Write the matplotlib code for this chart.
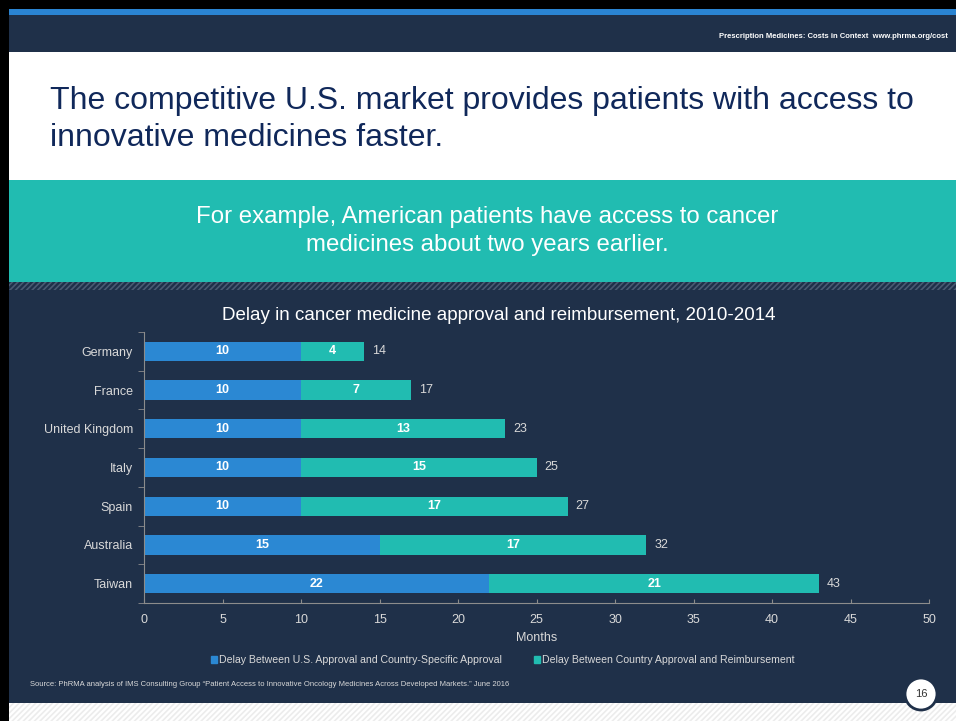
import numpy as np
import matplotlib.pyplot as plt
from matplotlib.patches import Rectangle, Circle, Patch

# data
countries = ['Germany', 'France', 'United Kingdom', 'Italy', 'Spain', 'Australia', 'Taiwan']
approval = [10, 10, 10, 10, 10, 15, 22]
reimb = [4, 7, 13, 15, 17, 17, 21]
xticks = [0, 5, 10, 15, 20, 25, 30, 35, 40, 45, 50]

navy = '#1f3049'
blue = '#2b88d3'
teal = '#21bcb1'
light = '#d9d9d9'

plt.rcParams['font.family'] = ['Liberation Sans', 'DejaVu Sans']
plt.rcParams['hatch.linewidth'] = 1.2

fig = plt.figure(figsize=(9.56, 7.21), dpi=100)
W, H = 956, 721

def band(y0, y1, color, hatch=None, ec=None, x0=0, x1=W):
    # y in pixels from the top
    r = Rectangle((x0 / W, 1 - y1 / H), (x1 - x0) / W, (y1 - y0) / H,
                  transform=fig.transFigure, facecolor=color, edgecolor=ec if ec else color,
                  hatch=hatch, linewidth=0, zorder=-5)
    fig.patches.append(r)

# slide background
band(0, 721, 'black')
band(9, 15, '#2a84d2', x0=9)
band(15, 52, navy, x0=9)
band(52, 180, 'white', x0=9)
band(180, 282, teal, x0=9)
band(282, 290, navy, hatch='//////', ec='#4a5a72', x0=9)
band(290, 703, navy, x0=9)
band(703, 721, 'white', hatch='//////', ec='#ececec', x0=9)

fig.text(948 / W, 1 - 36 / H, 'Prescription Medicines: Costs in Context  www.phrma.org/cost',
         color='white', fontsize=5.5, fontweight='bold', ha='right', va='center')
fig.text(50 / W, 1 - 101 / H, 'The competitive U.S. market provides patients with access to',
         color='#10285a', fontsize=23, ha='left', va='center')
fig.text(50 / W, 1 - 138 / H, 'innovative medicines faster.',
         color='#10285a', fontsize=23, ha='left', va='center')
fig.text(487 / W, 1 - 217 / H, 'For example, American patients have access to cancer',
         color='white', fontsize=17.3, ha='center', va='center')
fig.text(487 / W, 1 - 245 / H, 'medicines about two years earlier.',
         color='white', fontsize=17.3, ha='center', va='center')
fig.text(499 / W, 1 - 315 / H, 'Delay in cancer medicine approval and reimbursement, 2010-2014',
         color='white', fontsize=13.5, ha='center', va='center')

ax = fig.add_axes([144 / W, 1 - 603 / H, (929 - 144) / W, (603 - 332) / H])
ax.set_facecolor('none')
y = np.arange(len(countries))
totals = [a + b for a, b in zip(approval, reimb)]

ax.barh(y, approval, height=0.5, color=blue)
ax.barh(y, reimb, left=approval, height=0.5, color=teal)
for i in range(len(countries)):
    ax.text(approval[i] / 2, y[i], str(approval[i]), color='white', fontsize=9,
            fontweight='bold', ha='center', va='center')
    ax.text(approval[i] + reimb[i] / 2, y[i], str(reimb[i]), color='white', fontsize=9,
            fontweight='bold', ha='center', va='center')
    ax.text(totals[i] + 0.5, y[i], str(totals[i]), color=light, fontsize=9,
            ha='left', va='center')

ax.set_xlim(0, 50)
ax.set_ylim(len(countries) - 0.5, -0.5)
ax.set_xticks(xticks)
ax.set_yticks(y)
ax.set_yticklabels(countries)
ax.set_yticks(np.arange(-0.5, len(countries), 1), minor=True)
ax.tick_params(axis='y', which='major', length=0, labelsize=9, labelcolor=light, pad=8)
ax.tick_params(axis='y', which='minor', length=4, color='#8c8c8c', direction='out')
ax.tick_params(axis='x', length=3, direction='in', color='#8c8c8c', labelsize=9,
               labelcolor=light, pad=8)
for s in ['top', 'right']:
    ax.spines[s].set_visible(False)
for s in ['left', 'bottom']:
    ax.spines[s].set_color('#8c8c8c')
ax.set_xlabel('Months', color=light, fontsize=9, labelpad=4)

handles = [Patch(color=blue, label='Delay Between U.S. Approval and Country-Specific Approval'),
           Patch(color=teal, label='Delay Between Country Approval and Reimbursement')]
fig.legend(handles=handles, loc='center', bbox_to_anchor=(503 / W, 1 - 660 / H), ncol=2,
           frameon=False, fontsize=7.6, labelcolor=light, handlelength=0.6, handleheight=0.6,
           handletextpad=0.2, columnspacing=3)

fig.text(30 / W, 1 - 684 / H,
         'Source: PhRMA analysis of IMS Consulting Group \u201cPatient Access to Innovative Oncology Medicines Across Developed Markets.\u201d June 2016',
         color=light, fontsize=5.5, ha='left', va='center')

circ = Circle((921, H - 694), 16, transform=None, facecolor='white', edgecolor=navy,
              linewidth=2, zorder=5)
fig.patches.append(circ)
fig.text(921 / W, 1 - 694 / H, '16', color='#333333', fontsize=8, ha='center', va='center', zorder=6)

fig.savefig('out.png', dpi=100, facecolor='black')
